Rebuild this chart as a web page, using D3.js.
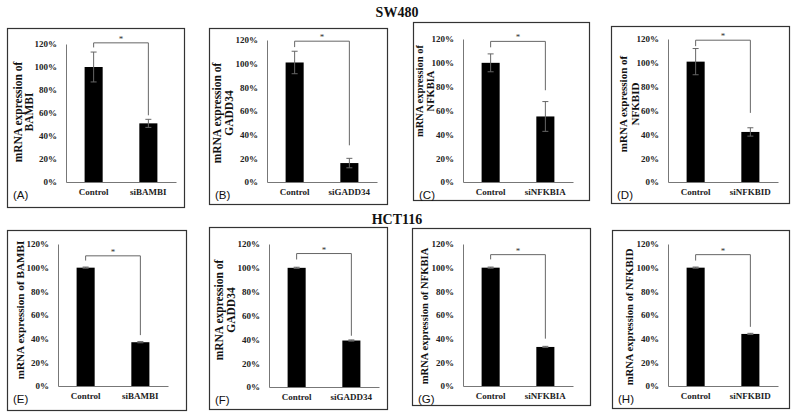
<!DOCTYPE html>
<html>
<head>
<meta charset="utf-8">
<script src="https://cdn.jsdelivr.net/npm/d3@7"></script>
<style>
  body { margin: 0; background: #fff; }
  svg { display: block; }
  .tick text { font-family: "Liberation Serif", "Times New Roman", serif; font-weight: bold; font-size: 9px; fill: #222; }
</style>
</head>
<body>
<svg id="chart" width="795" height="417"></svg>
<script>
const groups = ["Control", "si"];
const panelIds = ["A", "B", "C", "D", "E", "F", "G", "H"];
const genes = ["BAMBI", "GADD34", "NFKBIA", "NFKBID", "BAMBI", "GADD34", "NFKBIA", "NFKBID"];
const yTitles = [
  ["mRNA expression of", "BAMBI"],
  ["mRNA expression of", "GADD34"],
  ["mRNA expression of", "NFKBIA"],
  ["mRNA expression of", "NFKBID"],
  ["mRNA expression of BAMBI"],
  ["mRNA expression of", "GADD34"],
  ["mRNA expression of NFKBIA"],
  ["mRNA expression of NFKBID"]
];
const controlMean = [100, 101, 100, 101, 100, 100, 100, 100];
const controlErr = [13, 9.5, 7.5, 11, 0.5, 0.5, 0.5, 0.5];
const knockMean = [51, 16, 55, 42, 37, 39, 33, 44];
const knockErr = [3.5, 4, 12.5, 3.5, 0.5, 0.5, 0.5, 0.5];
const bracketTop = [121, 119, 118, 119, 110, 112, 111, 111];
const bracketLeftEnd = [117, 114, 113, 114, 106, 107, 107, 106];
const bracketRightEnd = [58, 31, 77, 58, 43, 43, 40, 50];
const yTicks = [0, 20, 40, 60, 80, 100, 120];
const rowTitles = ["SW480", "HCT116"];

// layout: box [x, y, w, h], axis x, y of 0% and 120%, y-title line x centres, title centre y, title font
const layout = [
  { box: [7, 28, 177, 179], ax: 66, y0: 182, y1: 44, tx: [18, 29.5], ty: 112, fs: 11.5 },
  { box: [209, 28, 178, 176], ax: 267, y0: 182, y1: 40, tx: [217.5, 229], ty: 113, fs: 11.5 },
  { box: [413, 22, 176, 178], ax: 463, y0: 182, y1: 39, tx: [419.5, 430.5], ty: 91, fs: 10.5 },
  { box: [611, 26, 178, 177], ax: 668, y0: 182, y1: 39, tx: [623.5, 635], ty: 104, fs: 11 },
  { box: [7, 230, 179, 180], ax: 58, y0: 386, y1: 244, tx: [20], ty: 310, fs: 11.2 },
  { box: [209, 227, 178, 182], ax: 269, y0: 387, y1: 244, tx: [219.5, 231], ty: 310, fs: 11.5 },
  { box: [412, 228, 178, 177], ax: 463, y0: 386, y1: 244, tx: [424], ty: 316, fs: 10.6 },
  { box: [612, 230, 177, 178], ax: 668, y0: 386, y1: 244, tx: [629], ty: 317, fs: 10.6 }
];

const svg = d3.select("#chart");
const serif = '"Liberation Serif", "Times New Roman", serif';

svg.selectAll("text.rowTitle")
  .data(rowTitles)
  .enter()
  .append("text")
  .attr("class", "rowTitle")
  .attr("x", 397)
  .attr("y", (d, i) => i === 0 ? 17 : 224)
  .attr("text-anchor", "middle")
  .attr("font-family", serif)
  .attr("font-weight", "bold")
  .attr("font-size", "14px")
  .attr("fill", "#111")
  .text(d => d);

panelIds.forEach((id, i) => {
  const L = layout[i];
  const g = svg.append("g");

  g.append("rect")
    .attr("x", L.box[0] + 0.5).attr("y", L.box[1] + 0.5)
    .attr("width", L.box[2]).attr("height", L.box[3])
    .attr("fill", "none").attr("stroke", "#333").attr("stroke-width", 1.2);

  const y = d3.scaleLinear().domain([0, 120]).range([L.y0, L.y1]);
  const x = d3.scaleBand().domain(groups).range([L.ax, L.ax + 110])
    .paddingInner(0.67).paddingOuter(0.34);

  const yAxis = g.append("g")
    .attr("transform", `translate(${L.ax},0)`)
    .call(d3.axisLeft(y).tickValues(yTicks).tickSize(0).tickPadding(9).tickFormat(d => d + "%"));
  yAxis.select(".domain").attr("stroke", "#777");

  const xAxis = g.append("g")
    .attr("transform", `translate(0,${L.y0})`)
    .call(d3.axisBottom(x).tickSize(0).tickPadding(7).tickFormat(d => d === "Control" ? d : "si" + genes[i]));
  xAxis.select(".domain").attr("stroke", "#777");
  xAxis.selectAll(".tick text").attr("font-size", "10.5px").attr("fill", "#111");

  const means = [controlMean[i], knockMean[i]];
  const errs = [controlErr[i], knockErr[i]];

  g.selectAll("rect.bar")
    .data(groups)
    .enter()
    .append("rect")
    .attr("class", "bar")
    .attr("x", d => x(d))
    .attr("width", x.bandwidth())
    .attr("y", (d, k) => y(means[k]))
    .attr("height", (d, k) => y(0) - y(means[k]))
    .attr("fill", "#000");

  groups.forEach((grp, k) => {
    const cx = x(grp) + x.bandwidth() / 2;
    const hi = y(means[k] + errs[k]), lo = y(means[k] - errs[k]);
    g.append("line").attr("x1", cx).attr("x2", cx).attr("y1", hi).attr("y2", lo)
      .attr("stroke", "#666").attr("stroke-width", 1);
    [hi, lo].forEach(v => {
      g.append("line").attr("x1", cx - 3).attr("x2", cx + 3).attr("y1", v).attr("y2", v)
        .attr("stroke", "#666").attr("stroke-width", 1);
    });
  });

  const c0 = x("Control") + x.bandwidth() / 2;
  const c1 = x("si") + x.bandwidth() / 2;
  g.append("path")
    .attr("d", `M${c0},${y(bracketLeftEnd[i])}V${y(bracketTop[i])}H${c1}V${y(bracketRightEnd[i])}`)
    .attr("fill", "none").attr("stroke", "#666").attr("stroke-width", 1);
  g.append("text")
    .attr("x", (c0 + c1) / 2).attr("y", y(bracketTop[i]) - 1)
    .attr("text-anchor", "middle")
    .attr("font-family", serif).attr("font-size", "9px").attr("fill", "#333")
    .text("*");

  yTitles[i].forEach((t, k) => {
    g.append("text")
      .attr("transform", `translate(${L.tx[k] + 3.5},${L.ty}) rotate(-90)`)
      .attr("text-anchor", "middle")
      .attr("font-family", serif).attr("font-weight", "bold")
      .attr("font-size", L.fs + "px").attr("fill", "#111")
      .text(t);
  });

  g.append("text")
    .attr("x", L.box[0] + 6).attr("y", L.y0 + 17)
    .attr("font-family", '"Liberation Sans", Arial, sans-serif')
    .attr("font-size", "11.5px").attr("fill", "#111")
    .text("(" + id + ")");
});
</script>
</body>
</html>
